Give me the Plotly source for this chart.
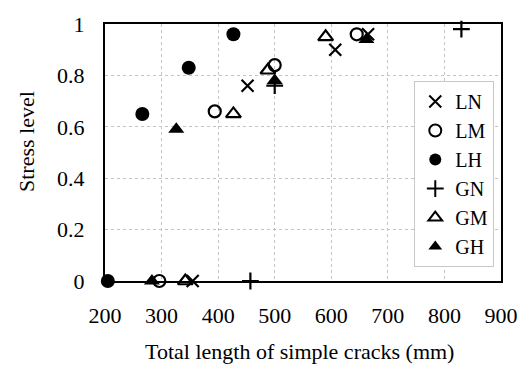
import plotly.graph_objects as go

# Total length of simple cracks (mm) vs. stress level, per specimen group
series_names = ["LN", "LM", "LH", "GN", "GM", "GH"]

ln_x = [355, 452, 607, 665]
ln_y = [0.0, 0.76, 0.90, 0.96]

lm_x = [296, 394, 500, 645]
lm_y = [0.0, 0.66, 0.84, 0.96]

lh_x = [205, 266, 348, 427]
lh_y = [0.0, 0.65, 0.83, 0.96]

gn_x = [457, 500, 830]
gn_y = [0.0, 0.76, 0.98]

gm_x = [342, 427, 488, 590]
gm_y = [0.0, 0.65, 0.82, 0.95]

gh_x = [283, 326, 500, 662]
gh_y = [0.0, 0.59, 0.78, 0.94]

x_ticks = [200, 300, 400, 500, 600, 700, 800, 900]
y_ticks = [0, 0.2, 0.4, 0.6, 0.8, 1]
y_tick_text = ["0", "0.2", "0.4", "0.6", "0.8", "1"]

x_title = "Total length of simple cracks (mm)"
y_title = "Stress level"

FONT = "Liberation Serif"

styles = {
    "LN": dict(symbol="x-thin-open", size=12, line=dict(width=2.2, color="black"), color="black"),
    "LM": dict(symbol="circle-open", size=12, line=dict(width=2.2, color="black"), color="black"),
    "LH": dict(symbol="circle", size=14, line=dict(width=0), color="black"),
    "GN": dict(symbol="cross-thin-open", size=12, line=dict(width=2.2, color="black"), color="black"),
    "GM": dict(symbol="triangle-up-open", size=13, line=dict(width=2.2, color="black"), color="black"),
    "GH": dict(symbol="triangle-up", size=14, line=dict(width=0), color="black"),
}

data = {
    "LN": (ln_x, ln_y),
    "LM": (lm_x, lm_y),
    "LH": (lh_x, lh_y),
    "GN": (gn_x, gn_y),
    "GM": (gm_x, gm_y),
    "GH": (gh_x, gh_y),
}

fig = go.Figure()
for name in series_names:
    xs, ys = data[name]
    fig.add_trace(go.Scatter(
        x=xs, y=ys, mode="markers", name=name,
        marker=styles[name], cliponaxis=False,
    ))

fig.update_layout(
    width=530, height=369,
    margin=dict(l=105, r=19, t=20, b=88),
    paper_bgcolor="white", plot_bgcolor="white",
    font=dict(family=FONT, size=22, color="black"),
    showlegend=True,
    legend=dict(
        x=0.781, y=0.778, xanchor="left", yanchor="top",
        bgcolor="white", bordercolor="#c8c8c8", borderwidth=1,
        font=dict(family=FONT, size=20, color="black"),
        itemsizing="constant", tracegroupgap=0,
    ),
    annotations=[
        dict(text=x_title, xref="paper", yref="paper", x=0.49, y=-0.276,
             xanchor="center", yanchor="middle", showarrow=False,
             font=dict(family=FONT, size=22)),
        dict(text=y_title, xref="paper", yref="paper", x=-0.2, y=0.544,
             xanchor="center", yanchor="middle", showarrow=False, textangle=-90,
             font=dict(family=FONT, size=22)),
    ],
)

fig.update_xaxes(
    range=[200, 900], tickvals=x_ticks,
    showgrid=True, gridcolor="#c4c4c4", griddash="dot", gridwidth=1,
    showline=True, linecolor="black", linewidth=2, mirror=True,
    ticks="", zeroline=False, ticklabelstandoff=14,
    tickfont=dict(family=FONT, size=22),
)
fig.update_yaxes(
    range=[0, 1], tickvals=y_ticks, ticktext=y_tick_text,
    showgrid=True, gridcolor="#c4c4c4", griddash="dot", gridwidth=1,
    showline=True, linecolor="black", linewidth=2, mirror=True,
    ticks="", zeroline=False, ticklabelstandoff=14,
    tickfont=dict(family=FONT, size=22),
)

fig.write_html("out.html")
